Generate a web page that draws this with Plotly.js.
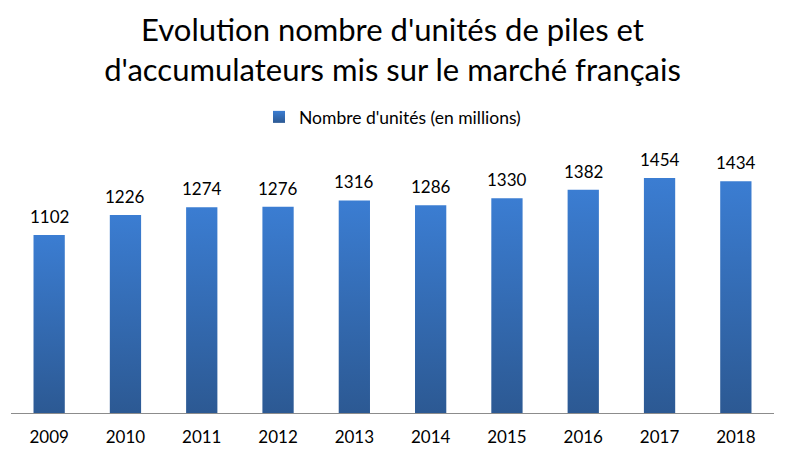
<!DOCTYPE html>
<html>
<head>
<meta charset="utf-8">
<script src="https://cdn.plot.ly/plotly-3.0.1.min.js"></script>
<style>html,body{margin:0;padding:0;background:#fff;}#chart{width:785px;height:456px;}</style>
</head>
<body>
<div id="chart"></div>
<script>
var years = ['2009','2010','2011','2012','2013','2014','2015','2016','2017','2018'];
var units = [1102,1226,1274,1276,1316,1286,1330,1382,1454,1434];
var seriesName = "Nombre d'unités (en millions)";
var titleText = "Evolution nombre d'unités de piles et<br>d'accumulateurs mis sur le marché français";

var FONT = 'Lato, "Open Sans", sans-serif';

var trace = {
  type: 'bar',
  x: years,
  y: units,
  name: seriesName,
  marker: {color: '#3468ae', line: {width: 0}},
  hoverinfo: 'x+y'
};

var annotations = years.map(function(yr, i){
  return {x: i, y: units[i], xref: 'x', yref: 'y', text: String(units[i]),
    showarrow: false, yanchor: 'bottom', yshift: 6,
    font: {family: FONT, size: 17, color: '#000'}};
});

var layout = {
  width: 785, height: 456,
  margin: {l: 11, r: 11, t: 150, b: 43},
  paper_bgcolor: '#fff', plot_bgcolor: '#fff',
  font: {family: FONT, color: '#000'},
  title: {text: titleText, x: 0.5, xanchor: 'center', yref: 'container', y: 1 - 41/456, yanchor: 'middle',
    font: {family: FONT, size: 31, color: '#000'}},
  showlegend: true,
  legend: {orientation: 'h', x: 0.5, xanchor: 'center', y: 1 + 33/263, yanchor: 'middle',
    font: {family: FONT, size: 17.5, color: '#000'}, itemwidth: 30},
  bargap: 0.59,
  xaxis: {type: 'category', range: [-0.5, years.length - 0.5], autorange: false, showline: true, linecolor: '#8c8c8c', linewidth: 1, ticks: '',
    ticklabelstandoff: 9,
    tickfont: {family: FONT, size: 17, color: '#000'}, showgrid: false, zeroline: false, fixedrange: true},
  yaxis: {visible: false, range: [0, 1628], autorange: false, showgrid: false, zeroline: false, fixedrange: true},
  annotations: annotations
};

Plotly.newPlot('chart', [trace], layout, {displayModeBar: false, staticPlot: true}).then(function(gd){
  var svg = gd.querySelector('svg.main-svg');
  var ns = 'http://www.w3.org/2000/svg';
  var defs = svg.querySelector('defs') || svg.insertBefore(document.createElementNS(ns,'defs'), svg.firstChild);
  var g = document.createElementNS(ns, 'linearGradient');
  g.setAttribute('id', 'barGrad');
  g.setAttribute('x1','0'); g.setAttribute('y1','0'); g.setAttribute('x2','0'); g.setAttribute('y2','1');
  [['0','#3b7dd2'],['1','#2c5993']].forEach(function(s){
    var st = document.createElementNS(ns,'stop');
    st.setAttribute('offset', s[0]); st.setAttribute('stop-color', s[1]);
    g.appendChild(st);
  });
  defs.appendChild(g);
  gd.querySelectorAll('.bars .point path, .legendpoints path').forEach(function(p){
    p.style.fill = 'url(#barGrad)';
  });
});
</script>
</body>
</html>
